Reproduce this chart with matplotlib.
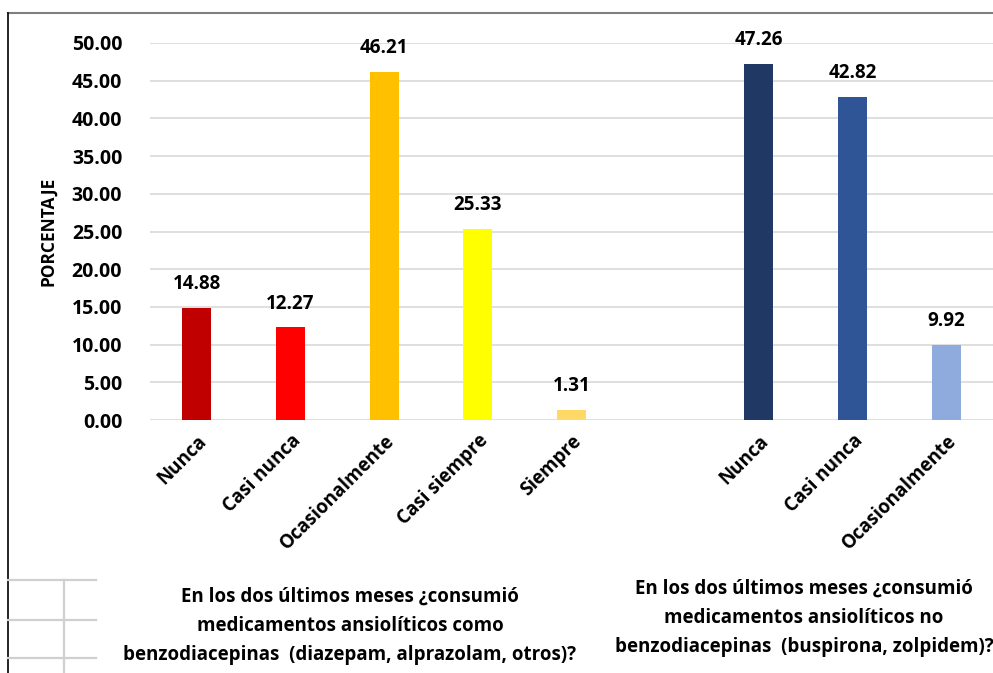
import matplotlib
matplotlib.use("Agg")
import matplotlib.pyplot as plt
from matplotlib.lines import Line2D

plt.rcParams.update({
    "font.family": ["Open Sans", "DejaVu Sans"],
    "font.weight": "bold",
    "axes.labelweight": "bold",
    "font.size": 12,
})

# -- Data ---------------------------------------------------------------------
cats_a = ["Nunca", "Casi nunca", "Ocasionalmente", "Casi siempre", "Siempre"]
vals_a = [14.88, 12.27, 46.21, 25.33, 1.31]
cols_a = ["#C00000", "#FF0000", "#FFC000", "#FFFF00", "#FFD966"]

cats_b = ["Nunca", "Casi nunca", "Ocasionalmente"]
vals_b = [47.26, 42.82, 9.92]
cols_b = ["#203864", "#2F5597", "#8FAADC"]

title_a = ("En los dos últimos meses ¿consumió\n"
           "medicamentos ansiolíticos como\n"
           "benzodiacepinas  (diazepam, alprazolam, otros)?")
title_b = ("En los dos últimos meses ¿consumió\n"
           "medicamentos ansiolíticos no\n"
           "benzodiacepinas  (buspirona, zolpidem)?")

# positions: group A at 0..4, empty slot, group B at 6..8
x_a = list(range(len(cats_a)))
x_b = [len(cats_a) + 1 + i for i in range(len(cats_b))]

W, H = 993, 673
fig = plt.figure(figsize=(W / 100, H / 100), dpi=100)
ax = fig.add_axes([150 / W, 1 - 420 / H, 1 - 150 / W, (420 - 43) / H])

ax.set_ylim(0, 50)
ax.set_xlim(-0.5, 8.5)
ax.set_yticks(range(0, 51, 5))
ax.set_yticklabels([f"{v:.2f}" for v in range(0, 51, 5)], fontsize=14)
ax.grid(axis="y", color="#D9D9D9", lw=1.2, zorder=0)
for s in ax.spines.values():
    s.set_visible(False)
ax.tick_params(axis="y", length=0, pad=20)
ax.tick_params(axis="x", length=0, pad=8)

for xs, vals, cols in [(x_a, vals_a, cols_a), (x_b, vals_b, cols_b)]:
    bars = ax.bar(xs, vals, width=0.31, color=cols, zorder=3)
    for b, v in zip(bars, vals):
        ax.annotate(f"{v:.2f}", (b.get_x() + b.get_width() / 2, v),
                    xytext=(0, 10), textcoords="offset points",
                    ha="center", va="bottom", fontsize=13.5,
                    annotation_clip=False)

ax.set_xticks(x_a + x_b)
ax.set_xticklabels(cats_a + cats_b, rotation=45, ha="right",
                   rotation_mode="anchor", fontsize=13.5)

ax.set_ylabel("PORCENTAJE", fontsize=12.5)
ax.yaxis.set_label_coords(-(150 - 57) / (W - 150), 0.5)

fig.text(350 / W, 1 - 626 / H, title_a, ha="center", va="center",
         fontsize=13.5, linespacing=1.6)
fig.text(804 / W, 1 - 618 / H, title_b, ha="center", va="center",
         fontsize=13.5, linespacing=1.6)

# sheet border and cell lines around the chart
def px_line(xs, ys, color, lw):
    fig.add_artist(Line2D([x / W for x in xs], [1 - y / H for y in ys],
                          color=color, lw=lw))

px_line([8, W], [13, 13], "#7F7F7F", 1.5)
px_line([8, 8], [13, H], "#000000", 1.2)
for y in [580, 620, 658]:
    px_line([8, 96], [y, y], "#D0D0D0", 1.6)
px_line([64, 64], [580, H], "#D0D0D0", 1.6)

fig.savefig("out.png", dpi=100)
